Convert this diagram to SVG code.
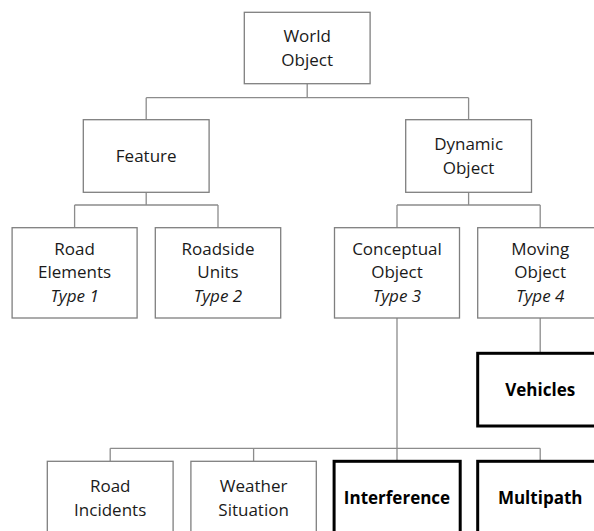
<svg xmlns="http://www.w3.org/2000/svg" width="594" height="531" viewBox="0 0 594 531">
  <style>
    .box { fill: #ffffff; stroke: #7f7f7f; stroke-width: 1.3; }
    .key { fill: #ffffff; stroke: #000000; stroke-width: 3; }
    .link { fill: none; stroke: #8c8c8c; stroke-width: 1.3; }
    text { font-family: "Open Sans", "Liberation Sans", sans-serif; font-size: 17px; fill: #1a1a1a; text-anchor: middle; }
    .it { font-style: italic; }
    .bd { font-weight: bold; fill: #000000; }
  </style>
  <rect width="594" height="531" fill="#ffffff"/>

  <!-- tree connectors -->
  <g id="connectors">
    <path class="link" d="M307.2,83.7 V97.7 M146.2,97.7 H468.6 M146.2,97.7 V119.7 M468.6,97.7 V119.7"/>
    <path class="link" d="M146.2,192.3 V205 M74.6,205 H218 M74.6,205 V227.7 M218,205 V227.7"/>
    <path class="link" d="M468.6,192.3 V205 M397,205 H540.2 M397,205 V227.7 M540.2,205 V227.7"/>
    <path class="link" d="M540.2,318 V353.3"/>
    <path class="link" d="M397,318 V461.3 M110.2,448.3 H540.2 M110.2,448.3 V461.3 M253.6,448.3 V461.3 M540.2,448.3 V461.3"/>
  </g>

  <g id="world-object">
    <rect class="box" x="244.3" y="12.3" width="125.8" height="71.4"/>
    <text x="307.2" y="42.3">World</text>
    <text x="307.2" y="65.7">Object</text>
  </g>

  <g id="feature">
    <rect class="box" x="83.3" y="119.7" width="125.8" height="72.6"/>
    <text x="146.2" y="162">Feature</text>
  </g>

  <g id="dynamic-object">
    <rect class="box" x="405.7" y="119.7" width="125.8" height="72.6"/>
    <text x="468.6" y="150.3">Dynamic</text>
    <text x="468.6" y="173.6">Object</text>
  </g>

  <g id="road-elements">
    <rect class="box" x="12.1" y="227.7" width="125" height="90.3"/>
    <text x="74.6" y="254.5">Road</text>
    <text x="74.6" y="278.3">Elements</text>
    <text class="it" x="74.6" y="302">Type 1</text>
  </g>

  <g id="roadside-units">
    <rect class="box" x="155.3" y="227.7" width="125.4" height="90.3"/>
    <text x="218" y="254.5">Roadside</text>
    <text x="218" y="278.3">Units</text>
    <text class="it" x="218" y="302">Type 2</text>
  </g>

  <g id="conceptual-object">
    <rect class="box" x="334.5" y="227.7" width="125" height="90.3"/>
    <text x="397" y="254.5">Conceptual</text>
    <text x="397" y="278.3">Object</text>
    <text class="it" x="397" y="302">Type 3</text>
  </g>

  <g id="moving-object">
    <rect class="box" x="477.7" y="227.7" width="125" height="90.3"/>
    <text x="540.2" y="254.5">Moving</text>
    <text x="540.2" y="278.3">Object</text>
    <text class="it" x="540.2" y="302">Type 4</text>
  </g>

  <g id="vehicles">
    <rect class="key" x="477.7" y="353.3" width="125" height="72.7"/>
    <text class="bd" x="540.2" y="395.5">Vehicles</text>
  </g>

  <g id="road-incidents">
    <rect class="box" x="47.3" y="461.3" width="125.8" height="90"/>
    <text x="110.2" y="491.7">Road</text>
    <text x="110.2" y="515.7">Incidents</text>
  </g>

  <g id="weather-situation">
    <rect class="box" x="190.9" y="461.3" width="125.4" height="90"/>
    <text x="253.6" y="491.7">Weather</text>
    <text x="253.6" y="515.7">Situation</text>
  </g>

  <g id="interference">
    <rect class="key" x="334.1" y="461.3" width="126.1" height="90"/>
    <text class="bd" x="397" y="504">Interference</text>
  </g>

  <g id="multipath">
    <rect class="key" x="477.7" y="461.3" width="125" height="90"/>
    <text class="bd" x="540.2" y="504">Multipath</text>
  </g>
</svg>
